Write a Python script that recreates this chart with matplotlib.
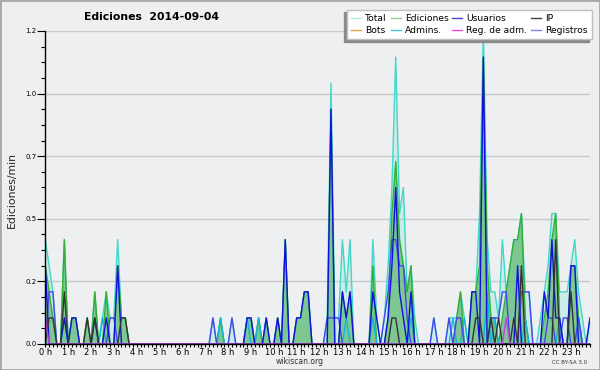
import matplotlib
matplotlib.use("Agg")
import matplotlib.pyplot as plt
from matplotlib.lines import Line2D
from matplotlib.patches import Rectangle
import numpy as np

# ---------------- data (edits per 10-minute bin, 144 bins) ----------------
BIN_MIN = 10
hour_labels = ["0 h", "1 h", "2 h", "3 h", "4 h", "5 h", "6 h", "7 h", "8 h", "9 h",
               "10 h", "11 h", "12 h", "13 h", "14 h", "15 h", "16 h", "17 h", "18 h",
               "19 h", "20 h", "21 h", "22 h", "23 h"]
y_ticks = [0.0, 0.24, 0.48, 0.72, 0.96, 1.2]
y_tick_labels = ["0.0", "0.2", "0.5", "0.7", "1.0", "1.2"]

total = [
    4, 3, 2, 0, 0, 4,   # 0 h
    0, 1, 1, 0, 0, 1,   # 1 h
    0, 2, 0, 1, 2, 1,   # 2 h
    1, 4, 1, 1, 0, 0,   # 3 h
    0, 0, 0, 0, 0, 0,   # 4 h
    0, 0, 0, 0, 0, 0,   # 5 h
    0, 0, 0, 0, 0, 0,   # 6 h
    0, 0, 1, 0, 1, 0,   # 7 h
    0, 1, 0, 0, 0, 1,   # 8 h
    1, 0, 1, 0, 1, 0,   # 9 h
    0, 1, 0, 4, 0, 0,   # 10 h
    1, 1, 2, 2, 0, 0,   # 11 h
    0, 0, 1, 10, 1, 1,  # 12 h
    4, 2, 4, 0, 0, 0,   # 13 h
    0, 0, 4, 1, 0, 1,   # 14 h
    3, 6, 11, 5, 6, 2,  # 15 h
    3, 1, 0, 0, 0, 0,   # 16 h
    1, 0, 0, 0, 1, 1,   # 17 h
    1, 2, 1, 0, 2, 2,   # 18 h
    5, 12, 4, 2, 2, 1,  # 19 h
    4, 2, 3, 4, 4, 5,   # 20 h
    2, 2, 0, 0, 1, 2,   # 21 h
    3, 5, 5, 2, 2, 2,   # 22 h
    3, 4, 2, 1, 0, 1,   # 23 h
]
ediciones = [
    3, 2, 1, 0, 0, 4,
    0, 1, 1, 0, 0, 1,
    0, 2, 0, 0, 2, 0,
    0, 3, 1, 1, 0, 0,
    0, 0, 0, 0, 0, 0,
    0, 0, 0, 0, 0, 0,
    0, 0, 0, 0, 0, 0,
    0, 0, 0, 0, 1, 0,
    0, 0, 0, 0, 0, 1,
    1, 0, 1, 0, 1, 0,
    0, 1, 0, 4, 0, 0,
    1, 1, 2, 2, 0, 0,
    0, 0, 0, 9, 0, 0,
    2, 1, 2, 0, 0, 0,
    0, 0, 3, 0, 0, 0,
    1, 5, 7, 4, 3, 2,
    3, 0, 0, 0, 0, 0,
    0, 0, 0, 0, 0, 0,
    1, 2, 0, 0, 2, 2,
    3, 11, 3, 1, 1, 0,
    1, 2, 3, 4, 4, 5,
    1, 0, 0, 0, 0, 1,
    2, 4, 5, 1, 0, 0,
    3, 3, 1, 0, 0, 0,
]
usuarios = [
    3, 0, 0, 0, 0, 1,
    0, 1, 1, 0, 0, 0,
    0, 1, 0, 0, 1, 0,
    0, 3, 0, 0, 0, 0,
    0, 0, 0, 0, 0, 0,
    0, 0, 0, 0, 0, 0,
    0, 0, 0, 0, 0, 0,
    0, 0, 0, 0, 0, 0,
    0, 0, 0, 0, 0, 1,
    1, 0, 0, 0, 1, 0,
    0, 1, 0, 4, 0, 0,
    1, 1, 2, 2, 0, 0,
    0, 0, 0, 9, 0, 0,
    2, 1, 2, 0, 0, 0,
    0, 0, 2, 1, 0, 0,
    1, 3, 6, 2, 1, 0,
    2, 0, 0, 0, 0, 0,
    0, 0, 0, 0, 0, 0,
    0, 0, 0, 0, 2, 2,
    0, 11, 0, 0, 0, 0,
    0, 0, 0, 0, 3, 0,
    0, 0, 0, 0, 0, 2,
    1, 4, 1, 1, 0, 0,
    3, 3, 0, 0, 0, 1,
]
ip = [
    0, 1, 1, 0, 0, 2,
    0, 0, 0, 0, 0, 1,
    0, 1, 0, 0, 0, 0,
    0, 0, 1, 1, 0, 0,
    0, 0, 0, 0, 0, 0,
    0, 0, 0, 0, 0, 0,
    0, 0, 0, 0, 0, 0,
    0, 0, 0, 0, 0, 0,
    0, 0, 0, 0, 0, 0,
    0, 0, 0, 0, 0, 0,
    0, 0, 0, 0, 0, 0,
    0, 0, 0, 0, 0, 0,
    0, 0, 0, 0, 0, 0,
    0, 0, 0, 0, 0, 0,
    0, 0, 0, 0, 0, 0,
    0, 1, 1, 0, 0, 0,
    0, 0, 0, 0, 0, 0,
    0, 0, 0, 0, 0, 0,
    0, 0, 0, 0, 0, 1,
    1, 0, 0, 1, 0, 1,
    0, 0, 0, 1, 0, 3,
    0, 0, 0, 0, 0, 0,
    0, 0, 4, 0, 0, 0,
    2, 0, 0, 0, 0, 0,
]
registros = [
    0, 2, 2, 0, 0, 0,
    0, 0, 0, 0, 0, 0,
    0, 0, 0, 0, 0, 1,
    1, 0, 0, 0, 0, 0,
    0, 0, 0, 0, 0, 0,
    0, 0, 0, 0, 0, 0,
    0, 0, 0, 0, 0, 0,
    0, 0, 1, 0, 0, 0,
    0, 1, 0, 0, 0, 0,
    0, 0, 0, 0, 0, 0,
    0, 0, 0, 0, 0, 0,
    0, 0, 0, 0, 0, 0,
    0, 0, 1, 1, 1, 1,
    0, 0, 0, 0, 0, 0,
    0, 0, 0, 0, 0, 1,
    2, 4, 4, 3, 3, 1,
    0, 0, 0, 0, 0, 0,
    1, 0, 0, 0, 1, 0,
    1, 1, 0, 0, 0, 0,
    0, 0, 0, 1, 1, 1,
    2, 2, 0, 0, 0, 2,
    2, 2, 0, 0, 0, 0,
    1, 1, 0, 0, 1, 1,
    0, 0, 1, 0, 0, 0,
]
admins = [
    0, 0, 0, 0, 0, 1,
    0, 0, 0, 0, 0, 0,
    0, 0, 0, 1, 0, 0,
    0, 0, 0, 0, 0, 0,
    0, 0, 0, 0, 0, 0,
    0, 0, 0, 0, 0, 0,
    0, 0, 0, 0, 0, 0,
    0, 0, 0, 0, 1, 0,
    0, 0, 0, 0, 0, 1,
    0, 0, 1, 0, 0, 0,
    0, 0, 0, 0, 0, 0,
    0, 0, 0, 0, 0, 0,
    0, 0, 0, 0, 0, 0,
    0, 1, 0, 0, 0, 0,
    0, 0, 1, 0, 0, 0,
    0, 0, 0, 0, 0, 0,
    1, 0, 0, 0, 0, 0,
    0, 0, 0, 0, 0, 1,
    0, 0, 1, 0, 0, 0,
    0, 0, 2, 0, 1, 0,
    0, 0, 0, 0, 0, 0,
    1, 0, 0, 0, 0, 0,
    0, 0, 0, 1, 0, 0,
    0, 0, 1, 0, 0, 0,
]
reg_adm = [0] * 144
reg_adm_bins = [0, 121]
reg_adm_counts = [1, 1]
for b, c in zip(reg_adm_bins, reg_adm_counts):
    reg_adm[b] = c
bots = [0] * 144

# ---------------- figure ----------------
BG = "#eeeff1"
fig = plt.figure(figsize=(6, 3.7), dpi=100)
fig.patch.set_facecolor(BG)
fig.patches.append(Rectangle((0, 0), 1, 1, transform=fig.transFigure, fill=False,
                             edgecolor="#a8a8a8", lw=2, zorder=10))

ax = fig.add_axes([45.3 / 600, 26 / 370, (590 - 45.3) / 600, 313 / 370])
ax.set_facecolor(BG)

x = np.arange(len(total)) / 6.0


def rate(a):
    return np.asarray(a, dtype=float) / BIN_MIN


ax.fill_between(x, rate(total), color="#7fe0d0", alpha=0.3, lw=0, zorder=1)
ax.plot(x, rate(total), color="#40d8c8", lw=1.0, zorder=2)
ax.fill_between(x, rate(ediciones), color="#38a844", alpha=0.52, lw=0, zorder=2.1)
ax.plot(x, rate(ediciones), color="#33b033", lw=1.0, zorder=2.2)
ax.plot(x, rate(bots), color="#f0a030", lw=1.0, zorder=2.25)
ax.plot(x, rate(admins), color="#10b8d8", lw=1.0, zorder=2.3)
ax.plot(x, rate(registros), color="#4646f0", lw=1.0, zorder=2.35)
ax.plot(x, rate(usuarios), color="#1010e0", lw=1.0, zorder=2.4)
ax.plot(x, rate(ip), color="#333333", lw=1.0, zorder=2.45)
ax.plot(x, rate(reg_adm), color="#c040e0", lw=1.0, zorder=2.5)

ax.set_xlim(0, x[-1])
ax.set_ylim(0, 1.2)

for s in ["top", "right"]:
    ax.spines[s].set_visible(False)
for s in ["left", "bottom"]:
    ax.spines[s].set_color("black")
    ax.spines[s].set_linewidth(1.0)
    ax.spines[s].set_zorder(5)

ax.set_yticks(y_ticks)
ax.set_yticklabels(y_tick_labels, fontsize=5)
ax.set_yticks(np.arange(0, 1.2001, 0.06), minor=True)
ax.yaxis.grid(True, which="major", color="#c8c8c8", lw=1.0)
ax.set_axisbelow(True)

ax.set_xticks(np.arange(24))
ax.set_xticklabels(hour_labels, fontsize=6)
ax.set_xticks(x, minor=True)
ax.tick_params(axis="x", which="both", direction="out", length=2.5, width=0.8, pad=0.5)
ax.tick_params(axis="y", which="major", direction="out", length=5.5, width=0.8, pad=1)
ax.tick_params(axis="y", which="minor", direction="out", length=3, width=0.8)

fig.text(12 / 600, 1 - 190 / 370, "Ediciones/min", rotation=90, fontsize=7.8,
         ha="center", va="center", color="#222222")
fig.text(151.5 / 600, 1 - 17 / 370, "Ediciones  2014-09-04", fontsize=7.8,
         fontweight="bold", ha="center", va="center")
fig.text(300 / 600, 1 - 361 / 370, "wikiscan.org", fontsize=5.5, ha="center",
         va="center", color="#333333")
fig.text(569.5 / 600, 1 - 362 / 370, "CC BY-SA 3.0", fontsize=4, ha="center",
         va="center", color="#333333")

labels = ["Total", "Bots", "Ediciones", "Admins.", "Usuarios", "Reg. de adm.",
          "IP", "Registros"]
colors = ["#b0e8e8", "#f0a040", "#90d090", "#40c8e0", "#4848d8", "#e050e0",
          "#404040", "#8080f0"]
handles = [Line2D([], [], color=c, lw=1.0) for c in colors]
fig.legend(handles, labels, ncol=4, loc="upper left",
           bbox_to_anchor=(347 / 600, 1 - 10 / 370), bbox_transform=fig.transFigure,
           fontsize=6.6, frameon=True, fancybox=False, edgecolor="#c0c0c0",
           facecolor="white", framealpha=1,
           shadow={"ox": -2.2, "oy": -1.6, "color": "#8a8a8a", "alpha": 1},
           handlelength=1.1, handletextpad=0.45, columnspacing=0.4,
           labelspacing=0.35, borderpad=0.45, borderaxespad=0)

fig.savefig("out.png", dpi=100, facecolor=BG)
